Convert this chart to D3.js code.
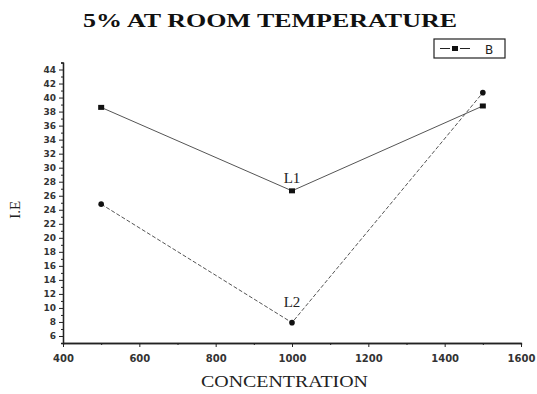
<!DOCTYPE html>
<html>
<head>
<meta charset="utf-8">
<script src="https://cdn.jsdelivr.net/npm/d3@7"></script>
<style>
body{margin:0;background:#fff;}
svg{display:block;}
</style>
</head>
<body>
<div id="chart"></div>
<script>
var concentrations = [500, 1000, 1500];
var seriesL1 = [38.6, 26.7, 38.8];
var seriesL2 = [24.8, 7.9, 40.7];
var xTicks = [400, 600, 800, 1000, 1200, 1400, 1600];
var yTicks = [6, 8, 10, 12, 14, 16, 18, 20, 22, 24, 26, 28, 30, 32, 34, 36, 38, 40, 42, 44];
var legendNames = ["B"];
var lineLabels = ["L1", "L2"];

var width = 537, height = 394;
var svg = d3.select("#chart").append("svg").attr("width",width).attr("height",height);

var x = d3.scaleLinear().domain([400,1600]).range([63,521]);
var y = d3.scaleLinear().domain([5,45]).range([343,62.5]);

// title
svg.append("text").attr("x",83).attr("y",27)
	.attr("font-family","Liberation Serif").attr("font-weight","bold").attr("font-size",19.5)
	.attr("textLength",374).attr("lengthAdjust","spacingAndGlyphs").attr("fill","#111")
	.text("5% AT ROOM TEMPERATURE");

// axes
var xAxis = svg.append("g").attr("transform","translate(0,"+y(5)+")")
	.call(d3.axisBottom(x).tickValues(xTicks).tickSize(4).tickSizeOuter(0).tickFormat(d3.format("d")));
var xMinor = svg.append("g").attr("transform","translate(0,"+y(5)+")")
	.call(d3.axisBottom(x).tickValues(d3.range(500,1600,200)).tickSize(2).tickFormat(""));
var yAxis = svg.append("g").attr("transform","translate("+x(400)+",0)")
	.call(d3.axisLeft(y).tickValues(yTicks).tickSize(4).tickSizeOuter(0));
var yMinor = svg.append("g").attr("transform","translate("+x(400)+",0)")
	.call(d3.axisLeft(y).tickValues(d3.range(5,46,2)).tickSize(2).tickFormat(""));

svg.selectAll(".domain").attr("stroke","#222").attr("stroke-width",1.3);
svg.selectAll(".tick line").attr("stroke","#222");
xAxis.selectAll("text").attr("font-family","DejaVu Sans").attr("font-weight","bold")
	.attr("font-size",10).attr("fill","#333").attr("y",8).attr("dy","1.1em");
yAxis.selectAll("text").attr("font-family","DejaVu Sans").attr("font-weight","bold")
	.attr("font-size",9).attr("fill","#333").attr("x",-7);

// axis titles
svg.append("text").attr("x",201).attr("y",387)
	.attr("font-family","Liberation Serif").attr("font-size",16).attr("fill","#222")
	.attr("textLength",167).attr("lengthAdjust","spacingAndGlyphs")
	.text("CONCENTRATION");
svg.append("text").attr("transform","translate(20,"+y(24)+") rotate(-90)").attr("text-anchor","middle")
	.attr("font-family","Liberation Serif").attr("font-size",15).attr("fill","#222")
	.text("I.E");

// lines
var line = d3.line().x(function(d,i){return x(concentrations[i]);}).y(function(d){return y(d);});
svg.append("path").datum(seriesL1).attr("d",line).attr("fill","none")
	.attr("stroke","#555").attr("stroke-width",1);
svg.append("path").datum(seriesL2).attr("d",line).attr("fill","none")
	.attr("stroke","#555").attr("stroke-width",1).attr("stroke-dasharray","4,2");

svg.selectAll(".sq").data(seriesL1).enter().append("rect")
	.attr("x",function(d,i){return x(concentrations[i])-3;})
	.attr("y",function(d){return y(d)-2.5;})
	.attr("width",6).attr("height",5).attr("fill","#111");
svg.selectAll(".dot").data(seriesL2).enter().append("circle")
	.attr("cx",function(d,i){return x(concentrations[i]);})
	.attr("cy",function(d){return y(d);})
	.attr("r",2.8).attr("fill","#111");

// line labels
svg.append("text").attr("x",x(1000)).attr("y",y(seriesL1[1])-8).attr("text-anchor","middle")
	.attr("font-family","Liberation Serif").attr("font-size",15).attr("fill","#222").text(lineLabels[0]);
svg.append("text").attr("x",x(1000)).attr("y",y(seriesL2[1])-16).attr("text-anchor","middle")
	.attr("font-family","Liberation Serif").attr("font-size",15).attr("fill","#222").text(lineLabels[1]);

// legend
var lg = svg.append("g").attr("transform","translate(434,39)");
lg.append("rect").attr("width",71).attr("height",19).attr("fill","#fff")
	.attr("stroke","#222").attr("stroke-width",1.2);
lg.append("line").attr("x1",6).attr("x2",16).attr("y1",9.5).attr("y2",9.5).attr("stroke","#222");
lg.append("line").attr("x1",26).attr("x2",36).attr("y1",9.5).attr("y2",9.5).attr("stroke","#222");
lg.append("rect").attr("x",18).attr("y",7).attr("width",6).attr("height",5).attr("fill","#111");
lg.append("text").attr("x",51).attr("y",14.5).attr("font-family","DejaVu Sans")
	.attr("font-size",12).attr("fill","#222").text(legendNames[0]);
</script>
</body>
</html>
